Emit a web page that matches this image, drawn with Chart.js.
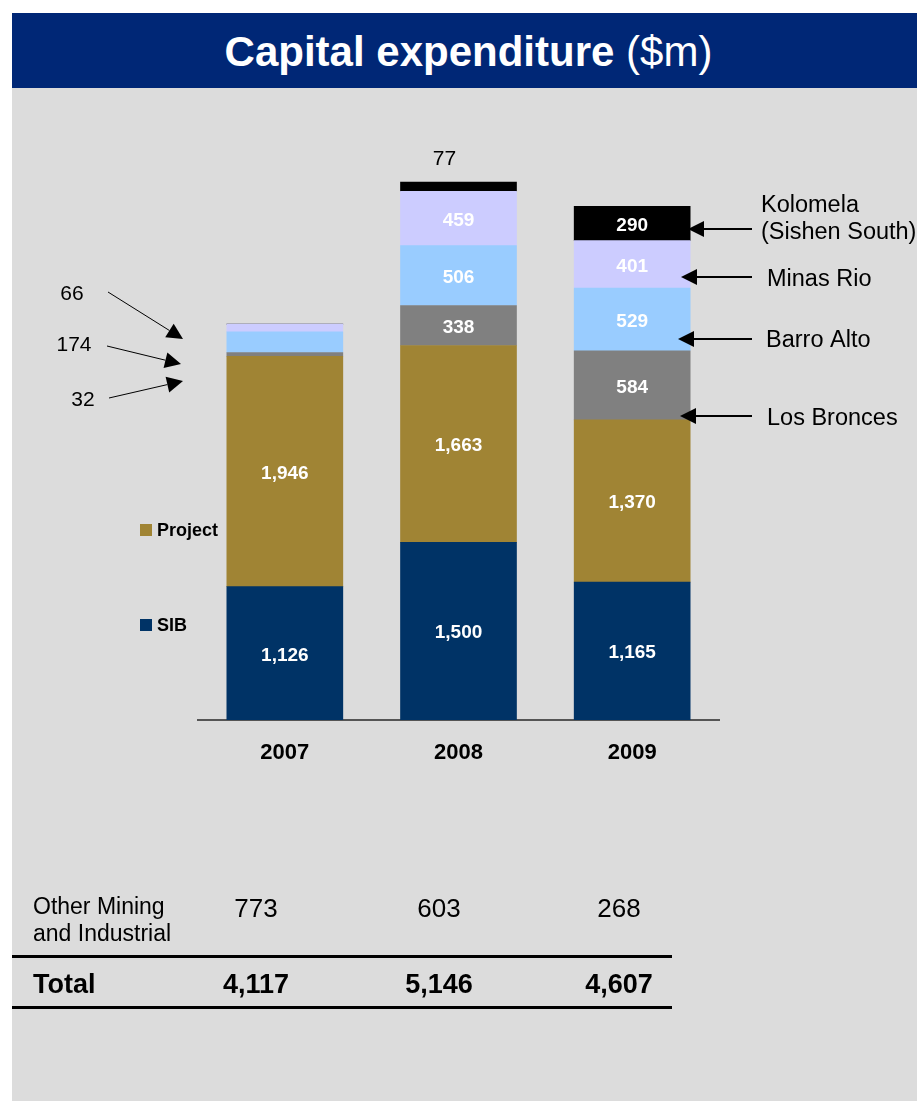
<!DOCTYPE html>
<html lang="en">
<head>
<meta charset="UTF-8">
<title>Capital expenditure</title>
<style>
  body { margin: 0; background: #fff; font-family: Arial, "Liberation Sans", sans-serif; }
  #panel { position: absolute; left: 12px; top: 13px; width: 905px; height: 1088px; background: #dcdcdc; }
  #header { height: 75px; background: #002776; color: #fff; text-align: center; line-height: 78px; font-size: 42px; padding-left: 8px; }
  #capex { position: absolute; left: 0; top: 0; }
  .cell { position: absolute; transform: translate(-50%, -50%); white-space: nowrap; color: #000; }
  .rowlabel { position: absolute; left: 33px; color: #000; }
  .rule { position: absolute; left: 12px; width: 660px; height: 3px; background: #000; }
</style>
</head>
<body>
<div id="panel">
  <div id="header"><b>Capital expenditure</b> ($m)</div>
</div>
<canvas id="capex" width="917" height="1101"></canvas>
<div id="table"></div>

<script src="https://cdn.jsdelivr.net/npm/chart.js"></script>
<script>
const years = ['2007', '2008', '2009'];
const sib = [1126, 1500, 1165];
const project = [1946, 1663, 1370];
const losBronces = [32, 338, 584];
const barroAlto = [174, 506, 529];
const minasRio = [66, 459, 401];
const kolomela = [0, 77, 290];
const otherMining = [773, 603, 268];
const totals = [4117, 5146, 4607];

const fmt = v => v.toLocaleString('en-US');

// arrow from (x1,y1) with a filled head at (x2,y2)
function arrow(ctx, x1, y1, x2, y2) {
  const a = Math.atan2(y2 - y1, x2 - x1);
  const len = 16, half = 8;
  const bx = x2 - len * Math.cos(a), by = y2 - len * Math.sin(a);
  ctx.beginPath();
  ctx.moveTo(x1, y1);
  ctx.lineTo(bx, by);
  ctx.stroke();
  ctx.beginPath();
  ctx.moveTo(x2, y2);
  ctx.lineTo(bx + half * Math.sin(a), by - half * Math.cos(a));
  ctx.lineTo(bx - half * Math.sin(a), by + half * Math.cos(a));
  ctx.closePath();
  ctx.fill();
}

const annotations = {
  id: 'annotations',
  afterDatasetsDraw(chart) {
    const ctx = chart.ctx;
    ctx.save();
    ctx.textAlign = 'center';
    ctx.textBaseline = 'middle';

    // values inside the segments
    chart.data.datasets.forEach((ds, i) => {
      chart.getDatasetMeta(i).data.forEach((bar, j) => {
        const v = ds.data[j];
        if (v < 200) return;
        ctx.font = 'bold 19px Arial';
        ctx.fillStyle = '#fff';
        ctx.fillText(fmt(v), bar.x, (bar.y + bar.base) / 2 + 2);
      });
    });

    // small Kolomela slice in 2008 labelled above the bar
    const kBar = chart.getDatasetMeta(5).data[1];
    ctx.font = '21px Arial';
    ctx.fillStyle = '#000';
    ctx.fillText(fmt(kolomela[1]), kBar.x - 14, kBar.y - 23);

    // 2007 callouts on the left
    ctx.strokeStyle = '#000';
    ctx.lineWidth = 1;
    ctx.fillText(fmt(minasRio[0]), 72, 294);
    ctx.fillText(fmt(barroAlto[0]), 74, 345);
    ctx.fillText(fmt(losBronces[0]), 83, 400);
    arrow(ctx, 108, 292, 183, 339);
    arrow(ctx, 107, 346, 181, 364);
    arrow(ctx, 109, 398, 183, 381);

    // project names on the right
    ctx.lineWidth = 2;
    ctx.textAlign = 'left';
    ctx.font = '23.5px Arial';
    ctx.fillText('Kolomela', 761, 206);
    ctx.fillText('(Sishen South)', 761, 233);
    ctx.fillText('Minas Rio', 767, 280);
    ctx.fillText('Barro Alto', 766, 341);
    ctx.fillText('Los Bronces', 767, 419);
    arrow(ctx, 752, 229, 688, 229);
    arrow(ctx, 752, 277, 681, 277);
    arrow(ctx, 752, 339, 678, 339);
    arrow(ctx, 752, 416, 680, 416);

    // legend for the two base series
    ctx.font = 'bold 18px Arial';
    [[1, 530, 'Project'], [0, 625, 'SIB']].forEach(([i, y, name]) => {
      ctx.fillStyle = chart.data.datasets[i].backgroundColor;
      ctx.fillRect(140, y - 6, 12, 12);
      ctx.fillStyle = '#000';
      ctx.fillText(name, 157, y + 1);
    });
    ctx.restore();
  }
};

new Chart(document.getElementById('capex'), {
  type: 'bar',
  data: {
    labels: years,
    datasets: [
      { label: 'SIB', data: sib, backgroundColor: '#003366' },
      { label: 'Project', data: project, backgroundColor: '#a08434' },
      { label: 'Los Bronces', data: losBronces, backgroundColor: '#808080' },
      { label: 'Barro Alto', data: barroAlto, backgroundColor: '#99ccff' },
      { label: 'Minas Rio', data: minasRio, backgroundColor: '#ccccff' },
      { label: 'Kolomela (Sishen South)', data: kolomela, backgroundColor: '#000000' }
    ]
  },
  options: {
    responsive: false,
    animation: false,
    barThickness: 116,
    layout: { padding: { left: 198, right: 198, top: 128, bottom: 331 } },
    plugins: { legend: { display: false }, tooltip: { enabled: false } },
    scales: {
      x: {
        stacked: true,
        grid: { display: false, drawTicks: false },
        border: { display: true, color: '#555', width: 2 },
        ticks: { color: '#000', font: { family: 'Arial', size: 22, weight: 'bold' }, padding: 20 },
        afterFit: s => { s.height = 50; }
      },
      y: { stacked: true, display: false, min: 0, max: 5000 }
    }
  },
  plugins: [annotations]
});

// summary rows under the chart
const cols = [256, 439, 619];
const table = document.getElementById('table');
table.innerHTML =
  '<div class="rowlabel" style="top:893px;font-size:23px;line-height:27px">Other Mining<br>and Industrial</div>' +
  otherMining.map((v, i) => `<div class="cell" style="left:${cols[i]}px;top:908px;font-size:26px">${fmt(v)}</div>`).join('') +
  '<div class="rule" style="top:955px"></div>' +
  '<div class="rowlabel" style="top:969px;font-size:27px;font-weight:bold;line-height:30px">Total</div>' +
  totals.map((v, i) => `<div class="cell" style="left:${cols[i]}px;top:984px;font-size:27px;font-weight:bold">${fmt(v)}</div>`).join('') +
  '<div class="rule" style="top:1006px"></div>';
</script>
</body>
</html>
